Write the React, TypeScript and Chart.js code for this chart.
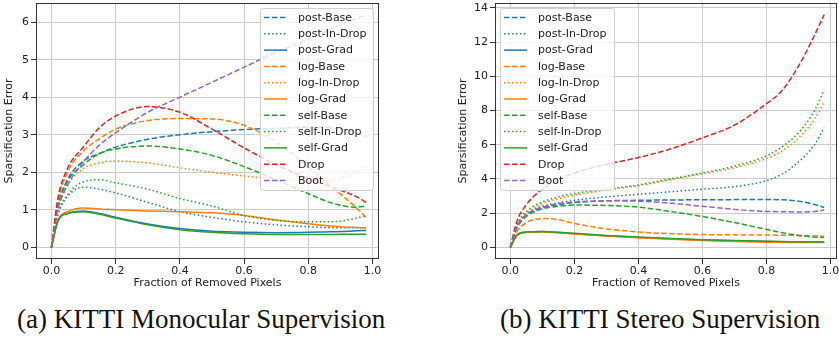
import React, { useEffect, useRef } from 'react';
import { Chart, registerables } from 'chart.js';

Chart.register(...registerables);

// ---------------- data ----------------
const fractions = [0, 0.02, 0.05, 0.1, 0.15, 0.2, 0.3, 0.4, 0.5, 0.6, 0.7, 0.8, 0.85, 0.9, 0.95, 0.98];
const xTicks = [0, 0.2, 0.4, 0.6, 0.8, 1.0];
const monoYTicks = [0, 1, 2, 3, 4, 5, 6];
const stereoYTicks = [0, 2, 4, 6, 8, 10, 12, 14];

const seriesNames = ['post-Base', 'post-In-Drop', 'post-Grad', 'log-Base', 'log-In-Drop', 'log-Grad',
  'self-Base', 'self-In-Drop', 'self-Grad', 'Drop', 'Boot'];

// (a) KITTI Monocular Supervision
const monoPostBase = [0, 1.1, 1.8, 2.3, 2.5, 2.67, 2.88, 3.0, 3.08, 3.14, 3.17, 3.2, 3.2, 3.15, 3.05, 2.95];
const monoPostInDrop = [0, 0.85, 1.35, 1.6, 1.55, 1.45, 1.2, 0.95, 0.8, 0.68, 0.6, 0.55, 0.53, 0.52, 0.52, 0.52];
const monoPostGrad = [0, 0.7, 0.9, 0.97, 0.9, 0.8, 0.62, 0.5, 0.43, 0.4, 0.39, 0.4, 0.41, 0.42, 0.44, 0.45];
const monoLogBase = [0, 1.2, 2.0, 2.57, 2.9, 3.15, 3.38, 3.43, 3.42, 3.25, 2.8, 2.15, 1.78, 1.42, 1.05, 0.8];
const monoLogInDrop = [0, 1.0, 1.65, 2.1, 2.25, 2.3, 2.25, 2.12, 2.0, 1.9, 1.82, 1.77, 1.78, 1.85, 2.0, 2.15];
const monoLogGrad = [0, 0.72, 0.95, 1.05, 1.02, 1.0, 0.97, 0.95, 0.92, 0.85, 0.73, 0.63, 0.58, 0.55, 0.53, 0.52];
const monoSelfBase = [0, 1.05, 1.75, 2.2, 2.5, 2.62, 2.7, 2.62, 2.45, 2.15, 1.8, 1.43, 1.25, 1.12, 1.07, 1.1];
const monoSelfInDrop = [0, 0.9, 1.4, 1.75, 1.8, 1.72, 1.55, 1.3, 1.1, 0.85, 0.72, 0.68, 0.68, 0.7, 0.78, 0.85];
const monoSelfGrad = [0, 0.7, 0.9, 0.95, 0.88, 0.78, 0.6, 0.47, 0.4, 0.36, 0.34, 0.34, 0.34, 0.35, 0.35, 0.35];
const monoDrop = [0, 1.3, 2.1, 2.68, 3.19, 3.5, 3.75, 3.6, 3.15, 2.65, 2.2, 1.84, 1.68, 1.52, 1.35, 1.2];
const monoBoot = [0, 1.0, 1.65, 2.28, 2.73, 3.05, 3.6, 4.0, 4.4, 4.8, 5.2, 5.55, 5.73, 5.92, 6.1, 6.2];

// (b) KITTI Stereo Supervision
const stereoPostBase = [0, 1.2, 1.9, 2.3, 2.5, 2.62, 2.72, 2.75, 2.77, 2.78, 2.79, 2.8, 2.78, 2.7, 2.5, 2.33];
const stereoPostInDrop = [0, 1.2, 1.95, 2.4, 2.6, 2.75, 2.95, 3.1, 3.25, 3.4, 3.55, 3.9, 4.3, 5.0, 6.0, 7.0];
const stereoPostGrad = [0, 0.7, 0.88, 0.92, 0.87, 0.8, 0.68, 0.58, 0.5, 0.43, 0.38, 0.34, 0.33, 0.32, 0.31, 0.31];
const stereoLogBase = [0, 0.9, 1.45, 1.68, 1.62, 1.4, 1.08, 0.9, 0.8, 0.75, 0.73, 0.72, 0.71, 0.7, 0.67, 0.65];
const stereoLogInDrop = [0, 1.25, 2.0, 2.55, 2.85, 3.05, 3.35, 3.6, 3.95, 4.3, 4.65, 5.2, 5.65, 6.4, 7.5, 8.5];
const stereoLogGrad = [0, 0.68, 0.87, 0.9, 0.85, 0.78, 0.66, 0.56, 0.47, 0.4, 0.34, 0.3, 0.29, 0.28, 0.28, 0.28];
const stereoSelfBase = [0, 1.1, 1.8, 2.25, 2.4, 2.47, 2.45, 2.35, 2.1, 1.8, 1.45, 1.05, 0.85, 0.7, 0.6, 0.58];
const stereoSelfInDrop = [0, 1.3, 2.1, 2.65, 2.95, 3.15, 3.4, 3.65, 4.0, 4.35, 4.75, 5.35, 5.9, 6.7, 8.0, 9.2];
const stereoSelfGrad = [0, 0.72, 0.9, 0.93, 0.88, 0.82, 0.7, 0.6, 0.52, 0.45, 0.4, 0.36, 0.34, 0.33, 0.32, 0.32];
const stereoDrop = [0, 1.5, 2.5, 3.4, 3.95, 4.35, 4.85, 5.25, 5.75, 6.4, 7.15, 8.4, 9.2, 10.6, 12.4, 13.6];
const stereoBoot = [0, 1.2, 1.9, 2.35, 2.55, 2.65, 2.72, 2.7, 2.58, 2.4, 2.22, 2.1, 2.08, 2.07, 2.1, 2.18];

const monoSeries = [monoPostBase, monoPostInDrop, monoPostGrad, monoLogBase, monoLogInDrop, monoLogGrad,
  monoSelfBase, monoSelfInDrop, monoSelfGrad, monoDrop, monoBoot];
const stereoSeries = [stereoPostBase, stereoPostInDrop, stereoPostGrad, stereoLogBase, stereoLogInDrop, stereoLogGrad,
  stereoSelfBase, stereoSelfInDrop, stereoSelfGrad, stereoDrop, stereoBoot];

// ---------------- styles ----------------
const BLUE = '#1f77b4', ORANGE = '#ff7f0e', GREEN = '#2ca02c', RED = '#d62728', PURPLE = '#9467bd';
const seriesColors = [BLUE, BLUE, BLUE, ORANGE, ORANGE, ORANGE, GREEN, GREEN, GREEN, RED, PURPLE];
const DASHED = [5.55, 2.4];
const DOTTED = [1.5, 2.475];
const SOLID: number[] = [];
const seriesDash = [DASHED, DOTTED, SOLID, DASHED, DOTTED, SOLID, DASHED, DOTTED, SOLID, DASHED, DASHED];

const FONT = '"DejaVu Sans", sans-serif';
const TEXT = '#222';
const SPINE = '#333';
const GRID = '#cccccc';

const frameLegendPlugin = {
  id: 'frameLegend',
  afterDatasetsDraw(chart: any, _args: any, opts: any) {
    const { ctx, chartArea } = chart;
    ctx.save();
    // spines (all four sides)
    ctx.strokeStyle = SPINE;
    ctx.lineWidth = 1;
    ctx.setLineDash([]);
    ctx.strokeRect(Math.round(chartArea.left) + 0.5, Math.round(chartArea.top) + 0.5,
      Math.round(chartArea.right - chartArea.left) - 1, Math.round(chartArea.bottom - chartArea.top) - 1);

    // legend
    const w = opts.width;
    const rowH = 16.3;
    const n = chart.data.datasets.length;
    const h = rowH * (n - 1) + 19;
    const x0 = opts.side === 'right' ? chartArea.right - opts.gap - w : chartArea.left + opts.gap;
    const y0 = chartArea.top + 5;
    ctx.beginPath();
    if ((ctx as any).roundRect) (ctx as any).roundRect(x0 + 0.5, y0 + 0.5, w, h, 3);
    else ctx.rect(x0 + 0.5, y0 + 0.5, w, h);
    ctx.fillStyle = 'rgba(255,255,255,0.8)';
    ctx.fill();
    ctx.strokeStyle = '#d0d0d0';
    ctx.lineWidth = 1;
    ctx.stroke();

    ctx.font = '11px ' + FONT;
    ctx.textBaseline = 'middle';
    ctx.textAlign = 'left';
    chart.data.datasets.forEach((ds: any, i: number) => {
      const y = y0 + 9.5 + i * rowH;
      ctx.strokeStyle = ds.borderColor;
      ctx.lineWidth = 1.5;
      ctx.setLineDash(ds.borderDash || []);
      ctx.beginPath();
      ctx.moveTo(x0 + 4, y);
      ctx.lineTo(x0 + 27, y);
      ctx.stroke();
      ctx.fillStyle = TEXT;
      ctx.fillText(ds.label, x0 + 38, y + 0.5);
    });
    ctx.restore();
  },
};

function makeConfig(series: number[][], yTicks: number[], yMin: number, yMax: number,
  padding: any, yWidth: number, titlePad: number, legendSide: string, legendGap: number, legendW: number) {
  return {
    type: 'line',
    data: {
      datasets: seriesNames.map((name, i) => ({
        label: name,
        data: fractions.map((f, j) => ({ x: f, y: series[i][j] })),
        borderColor: seriesColors[i],
        backgroundColor: seriesColors[i],
        borderDash: seriesDash[i],
        borderWidth: 1.5,
        pointRadius: 0,
        fill: false,
        cubicInterpolationMode: 'monotone',
        order: -i,
      })),
    },
    options: {
      animation: false,
      responsive: false,
      maintainAspectRatio: false,
      layout: { padding },
      plugins: {
        legend: { display: false },
        tooltip: { enabled: false },
        frameLegend: { side: legendSide, gap: legendGap, width: legendW },
      },
      scales: {
        x: {
          type: 'linear',
          min: -0.048,
          max: 1.02,
          afterBuildTicks: (s: any) => { s.ticks = xTicks.map((v) => ({ value: v })); },
          afterFit: (s: any) => { s.height = 31; s.paddingLeft = 0; s.paddingRight = 0; },
          ticks: {
            callback: (v: any) => Number(v).toFixed(1),
            font: { family: FONT, size: 11 },
            color: TEXT,
            padding: 1,
            maxRotation: 0,
            autoSkip: false,
          },
          grid: { color: GRID, lineWidth: 1, tickLength: 5, tickColor: SPINE, drawTicks: true },
          border: { display: false },
          title: {
            display: true,
            text: 'Fraction of Removed Pixels',
            font: { family: FONT, size: 11 },
            color: TEXT,
            padding: { top: 0, bottom: 0 },
          },
        },
        y: {
          type: 'linear',
          min: yMin,
          max: yMax,
          afterBuildTicks: (s: any) => { s.ticks = yTicks.map((v) => ({ value: v })); },
          afterFit: (s: any) => { s.width = yWidth; s.paddingTop = 0; s.paddingBottom = 0; },
          ticks: {
            callback: (v: any) => String(v),
            font: { family: FONT, size: 11 },
            color: TEXT,
            padding: 2,
            autoSkip: false,
          },
          grid: { color: GRID, lineWidth: 1, tickLength: 5, tickColor: SPINE, drawTicks: true },
          border: { display: false },
          title: {
            display: true,
            text: 'Sparsification Error',
            font: { family: FONT, size: 11 },
            color: TEXT,
            padding: { top: titlePad, bottom: 0 },
          },
        },
      },
    },
    plugins: [frameLegendPlugin],
  };
}

function SubChart(props: { config: any; left: number; width: number; height: number }) {
  const ref = useRef<HTMLCanvasElement | null>(null);
  useEffect(() => {
    if (!ref.current) return;
    const chart = new Chart(ref.current, props.config);
    return () => chart.destroy();
  }, []);
  return (
    <canvas
      ref={ref}
      width={props.width}
      height={props.height}
      style={{ position: 'absolute', left: props.left, top: 0, width: props.width, height: props.height, display: 'block' }}
    />
  );
}

const captionStyle: React.CSSProperties = {
  position: 'absolute',
  top: 306,
  fontFamily: '"Liberation Serif", "Times New Roman", serif',
  fontSize: 27,
  lineHeight: '27px',
  whiteSpace: 'nowrap',
  color: '#111',
};

export default function App() {
  const monoConfig = makeConfig(monoSeries, monoYTicks, -0.31, 6.51,
    { left: 0, top: 3, right: 41, bottom: 0 }, 36, 3, 'right', 6, 113);
  const stereoConfig = makeConfig(stereoSeries, stereoYTicks, -0.68, 14.28,
    { left: 34, top: 3, right: 2, bottom: 0 }, 41, 3, 'left', 5, 114);
  return (
    <div style={{ position: 'absolute', left: 0, top: 0, width: 839, height: 338, background: '#fff', overflow: 'hidden' }}>
      <SubChart config={monoConfig} left={0} width={420} height={290} />
      <SubChart config={stereoConfig} left={420} width={419} height={290} />
      <div style={{ ...captionStyle, left: 17 }}>(a) KITTI Monocular Supervision</div>
      <div style={{ ...captionStyle, left: 500 }}>(b) KITTI Stereo Supervision</div>
    </div>
  );
}
